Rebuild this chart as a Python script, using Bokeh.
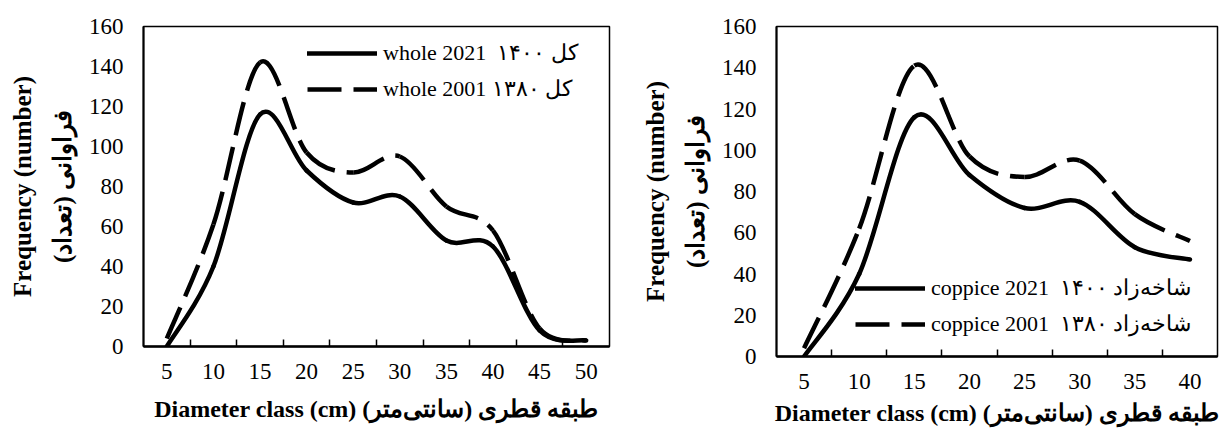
from bokeh.plotting import figure
from bokeh.models import FixedTicker, Range1d, Legend, LegendItem, ColumnDataSource
from bokeh.layouts import row, column
from bokeh.embed import file_html
from bokeh.resources import INLINE

# ---------------- data ----------------
classes_whole = [5, 10, 15, 20, 25, 30, 35, 40, 45, 50]
whole_2021 = [0, 40, 116, 88, 72, 75, 53, 50, 8, 3]
whole_2001 = [4, 61, 142, 97, 87, 95, 70, 58, 9, 3]

classes_coppice = [5, 10, 15, 20, 25, 30, 35, 40]
coppice_2021 = [0, 40, 116, 88, 72, 75, 53, 47]
coppice_2001 = [4, 62, 141, 97, 87, 95, 69, 56]

y_ticks = [0, 20, 40, 60, 80, 100, 120, 140, 160]

label_whole_2021 = "whole 2021  کل ۱۴۰۰"
label_whole_2001 = "whole 2001 کل ۱۳۸۰"
label_coppice_2021 = "coppice 2021  شاخه\u200cزاد ۱۴۰۰"
label_coppice_2001 = "coppice 2001  شاخه\u200cزاد ۱۳۸۰"

x_title = "Diameter class (cm) طبقه قطری (سانتی\u200cمتر)\u200f"
y_title = "Frequency (number)\nفراوانی (تعداد)\u200f"

SERIF = "Liberation Serif"


def smooth_source(xs, ys):
    """Cubic Bezier control points (Catmull-Rom style, like spreadsheet smoothing)."""
    n = len(xs)
    d = dict(x0=[], y0=[], x1=[], y1=[], cx0=[], cy0=[], cx1=[], cy1=[])
    for i in range(n - 1):
        im1 = max(i - 1, 0)
        ip2 = min(i + 2, n - 1)
        d["x0"].append(xs[i]); d["y0"].append(ys[i])
        d["x1"].append(xs[i + 1]); d["y1"].append(ys[i + 1])
        d["cx0"].append(xs[i] + (xs[i + 1] - xs[im1]) / 6.0)
        d["cy0"].append(ys[i] + (ys[i + 1] - ys[im1]) / 6.0)
        d["cx1"].append(xs[i + 1] - (xs[ip2] - xs[i]) / 6.0)
        d["cy1"].append(ys[i + 1] - (ys[ip2] - ys[i]) / 6.0)
    return ColumnDataSource(d)


def make_chart(classes, s_new, s_old, lab_new, lab_old, width, borders,
               legend_loc, x_standoff):
    bl, br, bt, bb = borders
    half = (classes[1] - classes[0]) / 2.0
    p = figure(width=width, height=435, output_backend="svg", toolbar_location=None,
               x_range=Range1d(classes[0] - half, classes[-1] + half),
               y_range=Range1d(0, 160),
               min_border_left=bl, min_border_right=br,
               min_border_top=bt, min_border_bottom=bb)
    p.xgrid.visible = False
    p.ygrid.visible = False
    p.outline_line_color = "black"
    p.outline_line_width = 1.5
    p.background_fill_color = "white"
    p.border_fill_color = "white"

    # x axis: labels at class centres, tick marks between classes
    xa = p.xaxis[0]
    xa.ticker = FixedTicker(ticks=classes,
                            minor_ticks=[c + half for c in classes[:-1]])
    xa.major_tick_line_color = None
    xa.major_tick_in = 0
    xa.major_tick_out = 0
    xa.minor_tick_in = 7
    xa.minor_tick_out = 0
    xa.minor_tick_line_color = "black"
    xa.minor_tick_line_width = 1.5
    xa.axis_line_width = 2.5
    xa.axis_line_color = "black"
    xa.major_label_text_font = SERIF
    xa.major_label_text_font_size = "23px"
    xa.major_label_text_color = "black"
    xa.major_label_standoff = 17
    xa.axis_label = x_title
    xa.axis_label_text_font = SERIF
    xa.axis_label_text_font_style = "bold"
    xa.axis_label_text_font_size = "24px"
    xa.axis_label_text_color = "black"
    xa.axis_label_standoff = x_standoff

    ya = p.yaxis[0]
    ya.ticker = FixedTicker(ticks=y_ticks)
    ya.major_tick_line_color = None
    ya.major_tick_in = 0
    ya.major_tick_out = 0
    ya.minor_tick_line_color = None
    ya.axis_line_width = 2
    ya.axis_line_color = "black"
    ya.major_label_text_font = SERIF
    ya.major_label_text_font_size = "23px"
    ya.major_label_text_color = "black"
    ya.major_label_standoff = 20
    ya.axis_label = y_title
    ya.axis_label_text_font = SERIF
    ya.axis_label_text_font_style = "bold"
    ya.axis_label_text_font_size = "25px"
    ya.axis_label_text_color = "black"
    ya.axis_label_text_line_height = 1.5
    ya.axis_label_standoff = 10

    r_new = p.bezier(x0="x0", y0="y0", x1="x1", y1="y1", cx0="cx0", cy0="cy0",
                     cx1="cx1", cy1="cy1", source=smooth_source(classes, s_new),
                     line_color="black", line_width=4.5, line_cap="round")
    r_old = p.bezier(x0="x0", y0="y0", x1="x1", y1="y1", cx0="cx0", cy0="cy0",
                     cx1="cx1", cy1="cy1", source=smooth_source(classes, s_old),
                     line_color="black", line_width=4.5, line_cap="butt",
                     line_dash="34 12")

    legend = Legend(items=[LegendItem(label=lab_new, renderers=[r_new]),
                           LegendItem(label=lab_old, renderers=[r_old])],
                    location=legend_loc, orientation="vertical",
                    glyph_width=70, glyph_height=20, label_height=20,
                    label_standoff=6, spacing=10, padding=0, margin=0,
                    border_line_color=None, background_fill_alpha=0,
                    label_text_font=SERIF, label_text_font_size="22px",
                    label_text_color="black")
    p.add_layout(legend)
    return p


p1 = make_chart(classes_whole, whole_2021, whole_2001,
                label_whole_2021, label_whole_2001,
                width=612, borders=(143, 3, 26, 89),
                legend_loc=(164, 244), x_standoff=14)
p2 = make_chart(classes_coppice, coppice_2021, coppice_2001,
                label_coppice_2021, label_coppice_2001,
                width=607, borders=(164, 2, 26, 79),
                legend_loc=(79, 19), x_standoff=8)

layout = row(column(p1), column(p2))
open("out.html", "w").write(file_html(layout, INLINE))
